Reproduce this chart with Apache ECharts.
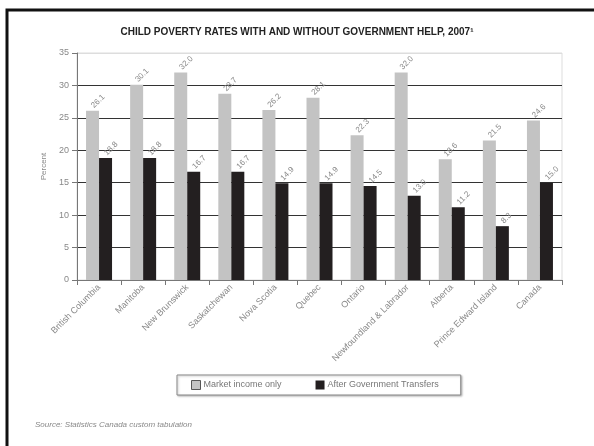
<!DOCTYPE html>
<html><head><meta charset="utf-8">
<script src="https://cdn.jsdelivr.net/npm/echarts@6/dist/echarts.min.js"></script>
<style>html,body{margin:0;padding:0;background:#fff}#c{width:594px;height:446px}</style>
</head><body><div id="c"></div>
<script>
const categories = ['British Columbia','Manitoba','New Brunswick','Saskatchewan','Nova Scotia','Quebec','Ontario','Newfoundland & Labrador','Alberta','Prince Edward Island','Canada'];
const marketIncome = [26.1,30.1,32.0,28.7,26.2,28.1,22.3,32.0,18.6,21.5,24.6];
const afterTransfers = [18.8,18.8,16.7,16.7,14.9,14.9,14.5,13.0,11.2,8.3,15.0];
const yTicks = [0,5,10,15,20,25,30,35];

const chart = echarts.init(document.getElementById('c'), null, {renderer:'canvas'});
const lblStyle = {show:true, position:'top', rotate:45, align:'left', verticalAlign:'middle', distance:4, color:'#888', fontSize:8, fontFamily:'Liberation Sans', formatter: p => p.value.toFixed(1)};
chart.setOption({
  animation:false,
  backgroundColor:'#fff',
  textStyle:{fontFamily:'Liberation Sans'},
  title:{text:'CHILD POVERTY RATES WITH AND WITHOUT GOVERNMENT HELP, 2007¹', left:'center', top:22,
    textStyle:{fontSize:10, fontWeight:'bold', color:'#222', fontFamily:'Liberation Sans'}},
  grid:{left:77, right:32, top:53, bottom:166, show:true, borderColor:'#ddd', borderWidth:1},
  legend:{top:375, left:177, icon:'rect', itemWidth:9, itemHeight:9, itemGap:34,
    borderColor:'#888', borderWidth:1, padding:[5,22,5,14],
    shadowColor:'rgba(0,0,0,0.25)', shadowBlur:2, shadowOffsetX:1, shadowOffsetY:1, backgroundColor:'#fff',
    textStyle:{fontSize:9, color:'#777', padding:[0,0,0,-2]},
    data:[{name:'Market income only', itemStyle:{borderColor:'#555', borderWidth:1}}, {name:'After Government Transfers'}]},
  xAxis:{type:'category', data:categories,
    axisLine:{lineStyle:{color:'#777'}}, axisTick:{show:true, lineStyle:{color:'#777'}},
    axisLabel:{rotate:45, interval:0, fontSize:9, color:'#888', margin:6}},
  yAxis:{type:'value', min:0, max:35, interval:5, name:'Percent', nameLocation:'middle', nameGap:24,
    nameTextStyle:{fontSize:8, color:'#888'},
    axisLine:{show:true, lineStyle:{color:'#777'}}, axisTick:{show:true, length:5, lineStyle:{color:'#777'}},
    axisLabel:{fontSize:9, color:'#888', margin:8, formatter: v => yTicks.includes(v) ? String(v) : ''},
    splitLine:{show:true, lineStyle:{color:['#333','#333','#333','#333','#333','#333','#333','#ddd'], width:1}}},
  series:[
    {name:'Market income only', type:'bar', data:marketIncome, barWidth:13, barGap:'0%', itemStyle:{color:'#c3c3c3'}, label:lblStyle},
    {name:'After Government Transfers', type:'bar', data:afterTransfers, barWidth:13, itemStyle:{color:'#231f20'}, label:lblStyle}
  ],
  graphic:[
    {type:'rect', shape:{x:7, y:10, width:620, height:460}, style:{fill:'none', stroke:'#111', lineWidth:3}, silent:true},
    {type:'text', left:35, top:421, style:{text:'Source: Statistics Canada custom tabulation', font:'italic 8px Liberation Sans', fill:'#888'}}
  ]
});
</script></body></html>
